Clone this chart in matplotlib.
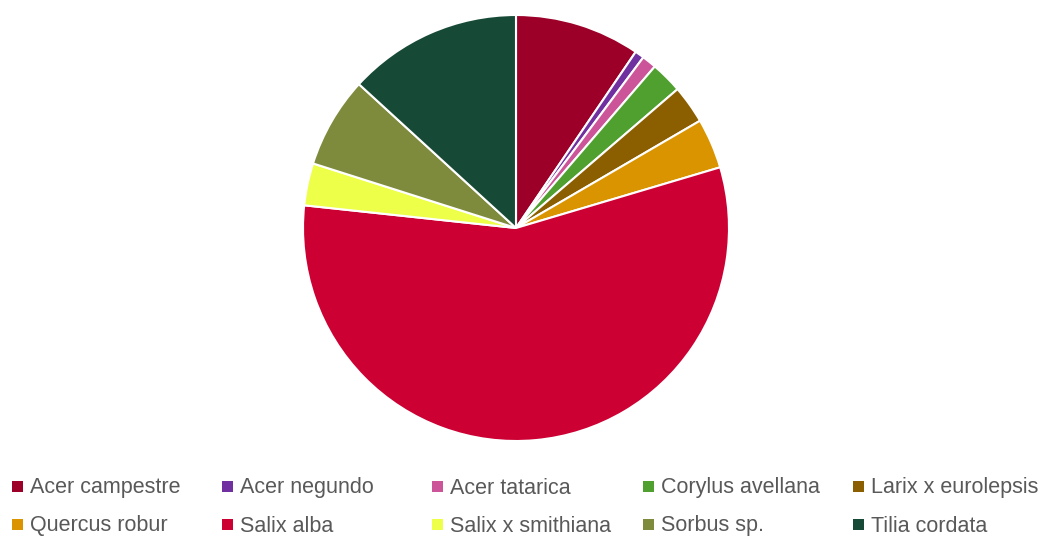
import matplotlib
matplotlib.use('Agg')
import matplotlib.pyplot as plt
from matplotlib.patches import Rectangle

species = ['Acer campestre', 'Acer negundo', 'Acer tatarica', 'Corylus avellana',
           'Larix x eurolepsis', 'Quercus robur', 'Salix alba', 'Salix x smithiana',
           'Sorbus sp.', 'Tilia cordata']
share = [9.5, 0.7, 1.1, 2.4, 2.9, 3.8, 56.3, 3.2, 6.9, 13.2]
colors = ['#9c0029', '#7030a0', '#cc5599', '#50a030', '#8b5e00',
          '#d99400', '#cc0033', '#eeff4a', '#7e8a3c', '#174a36']

matplotlib.rcParams['font.family'] = ['Liberation Sans', 'DejaVu Sans']

W, H = 1044, 536
fig = plt.figure(figsize=(W / 100, H / 100), dpi=100)

# pie area, centre (516, 228), radius 213 px
ax = fig.add_axes([303 / W, 95 / H, 426 / W, 426 / H])
ax.pie(share, colors=colors, startangle=90, counterclock=False, radius=1,
       wedgeprops=dict(edgecolor='white', linewidth=1.5))
ax.set_xlim(-1, 1)
ax.set_ylim(-1, 1)
ax.set_aspect('equal')
ax.axis('off')

# legend: two rows of five, laid out by hand
col_x = [12, 222, 432, 643, 853]
row_y = [486, 524]
for i, (name, c) in enumerate(zip(species, colors)):
    x = col_x[i % 5]
    y = row_y[i // 5]
    fig.patches.append(Rectangle((x / W, (H - y - 5.5) / H), 11 / W, 11 / H,
                                 transform=fig.transFigure, facecolor=c,
                                 edgecolor='none'))
    fig.text((x + 18) / W, (H - y - 7.5) / H, name, fontsize=15.5, color='#595959',
             va='baseline', ha='left')

fig.savefig('out.png', dpi=100)
